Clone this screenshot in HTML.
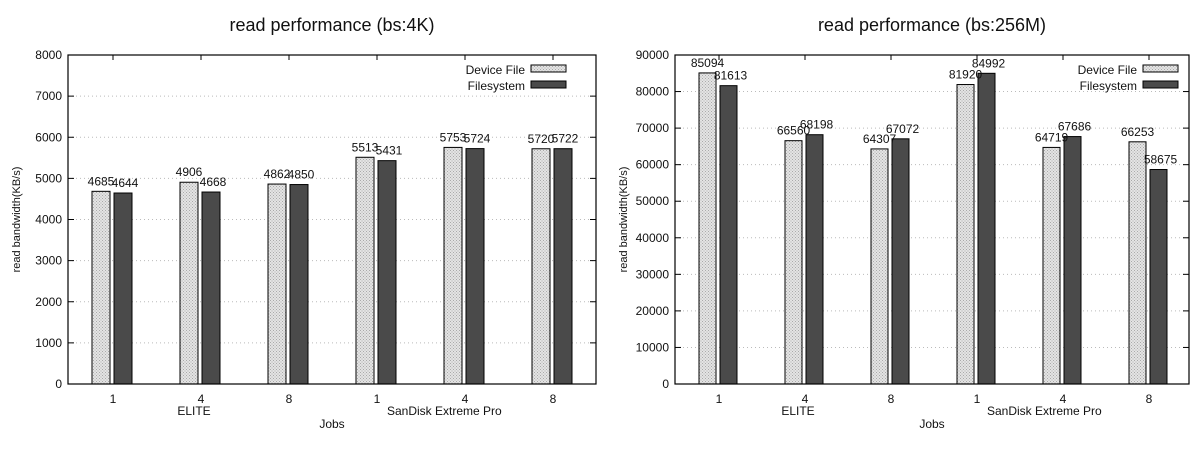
<!DOCTYPE html>
<html><head><meta charset="utf-8"><style>
body{margin:0;background:#fff;width:1200px;height:462px;overflow:hidden;font-family:"Liberation Sans",sans-serif}
</style></head><body>
<svg id="s" width="1200" height="462" xmlns="http://www.w3.org/2000/svg" font-family="Liberation Sans, sans-serif">
<defs><pattern id="hatch" width="3" height="3" patternUnits="userSpaceOnUse"><rect width="3" height="3" fill="#e4e4e4"/><rect width="1" height="1" fill="#aaa"/><rect x="1.5" y="1.5" width="1" height="1" fill="#aaa"/></pattern></defs>
</svg>
<script>
const categories=["1","4","8","1","4","8"];
const groupLabels=["ELITE","SanDisk Extreme Pro"];
const deviceFile4K=[4685,4906,4862,5513,5753,5720];
const filesystem4K=[4644,4668,4850,5431,5724,5722];
const deviceFile256M=[85094,66560,64307,81920,64719,66253];
const filesystem256M=[81613,68198,67072,84992,67686,58675];
const ticks4K=[0,1000,2000,3000,4000,5000,6000,7000,8000];
const ticks256M=[0,10000,20000,30000,40000,50000,60000,70000,80000,90000];
const svg=document.getElementById('s');
const NS='http://www.w3.org/2000/svg';
function mk(tag,attrs,text){const e=document.createElementNS(NS,tag);for(const k in attrs)e.setAttribute(k,attrs[k]);if(text!==undefined)e.textContent=text;svg.appendChild(e);return e;}
function chart(cfg){
 const {x0,x1,top,bot,max,ticks,dev,fs,title,tcx,pre,sp,off,bw,lx}=cfg;
 const y=v=>bot-(v/max)*(bot-top);
 const gx=i=>x0+off+i*sp;
 let t=mk('text',{x:tcx,y:31,'font-size':18,'text-anchor':'middle',fill:'#111'},title);
 
 ticks.forEach(v=>{
  if(v>0&&v<max){let g=mk('line',{x1:x0,x2:x1,y1:y(v),y2:y(v),stroke:'#bbb','stroke-dasharray':'1,3'});}
  let a=mk('line',{x1:x0,x2:x0+6,y1:y(v),y2:y(v),stroke:'#000'});
  let b=mk('line',{x1:x1-6,x2:x1,y1:y(v),y2:y(v),stroke:'#000'});
  let l=mk('text',{x:x0-6,y:y(v)+4,'font-size':12,'text-anchor':'end',fill:'#111'},String(v));
  
 });
 categories.forEach((c,i)=>{
  const cx=gx(i);
  let tk=mk('line',{x1:cx,x2:cx,y1:top,y2:top+5,stroke:'#000'});
  let r1=mk('rect',{x:cx-bw-3,y:y(dev[i]),width:bw,height:bot-y(dev[i]),fill:'url(#hatch)',stroke:'#000','stroke-width':1});
  
  let r2=mk('rect',{x:cx+1,y:y(fs[i]),width:bw,height:bot-y(fs[i]),fill:'#4a4a4a',stroke:'#000','stroke-width':1});
  
  let v1=mk('text',{x:cx-bw/2-3,y:y(dev[i])-6,'font-size':12,'text-anchor':'middle',fill:'#111'},String(dev[i]));
  
  let v2=mk('text',{x:cx+bw/2+3,y:y(fs[i])-6,'font-size':12,'text-anchor':'middle',fill:'#111'},String(fs[i]));
  
  let cl=mk('text',{x:cx,y:bot+19,'font-size':12,'text-anchor':'middle',fill:'#111'},c);
  
 });
 groupLabels.forEach((g,j)=>{
  let gl=mk('text',{x:gx(j*3+1)-(j?4:7),y:bot+31,'font-size':12,'text-anchor':j?'start':'middle',fill:'#111'},g);
  if(j)gl.setAttribute('x',gx(3)+10);
  
 });
 let fr=mk('rect',{x:x0,y:top,width:x1-x0,height:bot-top,fill:'none',stroke:'#000','stroke-width':1.2});
 
 let xt=mk('text',{x:(x0+x1)/2,y:bot+44,'font-size':12,'text-anchor':'middle',fill:'#111'},'Jobs');
 
 const ycx=x0-48;
 let yt=mk('text',{x:ycx,y:(top+bot)/2,'font-size':11,'text-anchor':'middle',fill:'#111',transform:`rotate(-90 ${ycx} ${(top+bot)/2})`},'read bandwidth(KB/s)');
 
 [['Device File','url(#hatch)',0],['Filesystem','#4a4a4a',16]].forEach(([n,f,dy])=>{
  let lt=mk('text',{x:lx-6,y:top+19+dy,'font-size':12,'text-anchor':'end',fill:'#111'},n);
  
  let ls=mk('rect',{x:lx,y:top+10+dy,width:35,height:7,fill:f,stroke:'#000'});
  
 });
}
chart({x0:68,x1:596,top:55,bot:384,max:8000,ticks:ticks4K,dev:deviceFile4K,fs:filesystem4K,title:'read performance (bs:4K)',tcx:332,pre:'chart-4k',sp:88,off:45,bw:18,lx:531});
chart({x0:675,x1:1189,top:55,bot:384,max:90000,ticks:ticks256M,dev:deviceFile256M,fs:filesystem256M,title:'read performance (bs:256M)',tcx:932,pre:'chart-256m',sp:86,off:44,bw:17,lx:1143});
</script>
</body></html>
